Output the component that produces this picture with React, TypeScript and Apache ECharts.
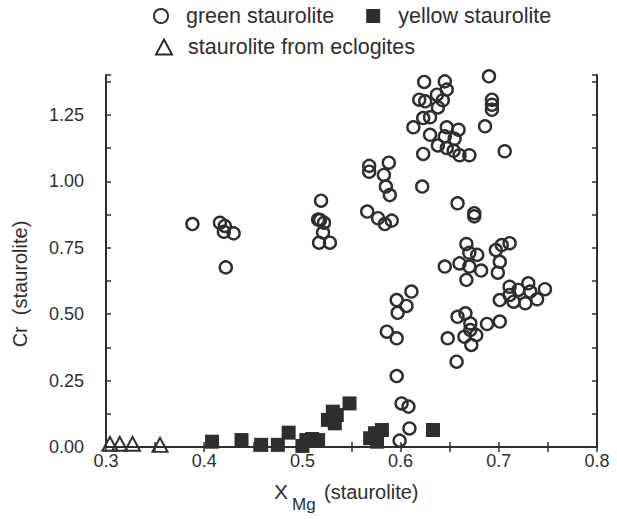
import React, { useEffect, useRef } from "react";
import * as echarts from "echarts";

const greenStaurolite: number[][] = [
  [0.388, 0.839], [0.416, 0.844], [0.421, 0.832], [0.420, 0.810], [0.430, 0.804], [0.422, 0.676],
  [0.519, 0.927], [0.518, 0.854], [0.516, 0.856], [0.522, 0.844], [0.521, 0.807], [0.517, 0.769], [0.528, 0.769],
  [0.568, 1.058], [0.568, 1.036], [0.588, 1.070], [0.583, 1.024], [0.585, 0.980], [0.589, 0.948],
  [0.566, 0.886], [0.577, 0.861], [0.584, 0.839], [0.591, 0.852], [0.622, 0.980],
  [0.624, 1.374], [0.645, 1.376], [0.647, 1.345], [0.619, 1.307], [0.625, 1.301], [0.637, 1.326],
  [0.643, 1.305], [0.638, 1.278], [0.630, 1.241], [0.623, 1.238], [0.613, 1.203], [0.630, 1.175],
  [0.647, 1.203], [0.659, 1.194], [0.645, 1.169], [0.655, 1.160], [0.638, 1.135], [0.647, 1.125],
  [0.654, 1.115], [0.660, 1.098], [0.670, 1.098], [0.623, 1.103],
  [0.690, 1.395], [0.693, 1.307], [0.693, 1.288], [0.693, 1.269], [0.686, 1.207], [0.706, 1.113],
  [0.658, 0.917], [0.675, 0.880], [0.675, 0.868],
  [0.667, 0.764], [0.670, 0.731], [0.678, 0.723], [0.660, 0.691], [0.670, 0.679], [0.682, 0.664],
  [0.645, 0.679], [0.667, 0.629],
  [0.711, 0.767], [0.703, 0.760], [0.697, 0.741], [0.701, 0.697], [0.699, 0.656],
  [0.711, 0.603], [0.720, 0.591], [0.730, 0.616], [0.732, 0.585], [0.747, 0.594], [0.701, 0.553],
  [0.715, 0.547], [0.727, 0.541], [0.739, 0.556], [0.711, 0.572],
  [0.658, 0.490], [0.666, 0.503], [0.671, 0.465], [0.671, 0.440], [0.677, 0.421], [0.648, 0.409],
  [0.665, 0.415], [0.672, 0.384], [0.688, 0.463], [0.701, 0.472], [0.657, 0.321],
  [0.611, 0.585], [0.596, 0.553], [0.606, 0.531], [0.597, 0.505], [0.586, 0.434], [0.596, 0.409],
  [0.596, 0.267], [0.601, 0.164], [0.608, 0.152], [0.609, 0.070], [0.599, 0.024],
];

const yellowStaurolite: number[][] = [
  [0.408, 0.020], [0.438, 0.026], [0.458, 0.008], [0.475, 0.008], [0.486, 0.054],
  [0.500, 0.004], [0.504, 0.026], [0.510, 0.030], [0.516, 0.026],
  [0.526, 0.102], [0.533, 0.089], [0.535, 0.120], [0.531, 0.133], [0.548, 0.164],
  [0.569, 0.033], [0.574, 0.052], [0.581, 0.064], [0.576, 0.020], [0.633, 0.064],
];

const eclogiteStaurolite: number[][] = [
  [0.304, 0.012], [0.314, 0.012], [0.327, 0.012], [0.355, 0.008],
];

const seriesNames = ["green staurolite", "yellow staurolite", "staurolite from eclogites"];

const INK = "#2e2e2e";
const FONT = "Liberation Sans, Arial, Helvetica, sans-serif";

export default function App() {
  const ref = useRef<HTMLDivElement>(null);
  useEffect(() => {
    if (!ref.current) return;
    const chart = echarts.init(ref.current, null, { renderer: "svg" });
    const frameLine = { show: true, lineStyle: { color: INK, width: 2 } };
    const tickStyle = { show: true, inside: true, length: 5, lineStyle: { color: INK, width: 1.5 } };
    const legendText = { fontSize: 21.5, color: INK, fontFamily: FONT, padding: [0, 0, 0, 13] };
    chart.setOption({
      animation: false,
      backgroundColor: "#ffffff",
      textStyle: { fontFamily: FONT },
      grid: { left: 106, right: 20, top: 75, bottom: 72, containLabel: false },
      legend: [
        {
          left: 148, top: 0, itemGap: 32, itemWidth: 14, itemHeight: 14,
          textStyle: legendText,
          data: [
            { name: seriesNames[0], icon: "circle", itemStyle: { color: "transparent", borderColor: INK, borderWidth: 2 } },
            { name: seriesNames[1], icon: "rect", itemStyle: { color: INK, borderWidth: 0 } },
          ],
        },
        {
          left: 150, top: 31, itemWidth: 16, itemHeight: 15,
          textStyle: { ...legendText, padding: [0, 0, 0, 11] },
          data: [
            { name: seriesNames[2], icon: "triangle", itemStyle: { color: "transparent", borderColor: INK, borderWidth: 2 } },
          ],
        },
      ],
      xAxis: [
        {
          type: "value", position: "bottom", min: 0.3, max: 0.8, interval: 0.1,
          axisLine: frameLine, axisTick: tickStyle,
          minorTick: { show: true, splitNumber: 2, length: 5, lineStyle: { color: INK, width: 1.5 } },
          splitLine: { show: false },
          axisLabel: { fontSize: 18, color: INK, margin: 5, fontFamily: FONT, formatter: (v: number) => v.toFixed(1) },
        },
        {
          type: "value", position: "top", min: 0.3, max: 0.8, interval: 0.1,
          axisLine: frameLine, axisTick: tickStyle,
          minorTick: { show: true, splitNumber: 2, length: 5, lineStyle: { color: INK, width: 1.5 } },
          splitLine: { show: false }, axisLabel: { show: false },
        },
      ],
      yAxis: [
        {
          type: "value", position: "left", min: 0, max: 1.4, interval: 0.125,
          axisLine: frameLine, axisTick: tickStyle, splitLine: { show: false },
          axisLabel: {
            fontSize: 18, color: INK, margin: 22, fontFamily: FONT,
            formatter: (v: number) => {
              const k = v / 0.25;
              return Math.abs(k - Math.round(k)) < 1e-6 && v < 1.35 ? v.toFixed(2) : "";
            },
          },
        },
        {
          type: "value", position: "right", min: 0, max: 1.4, interval: 0.125,
          axisLine: frameLine, axisTick: tickStyle, splitLine: { show: false }, axisLabel: { show: false },
        },
      ],
      series: [
        {
          name: seriesNames[0], type: "scatter", data: greenStaurolite, symbol: "circle", symbolSize: 12, clip: false,
          itemStyle: { color: "transparent", borderColor: INK, borderWidth: 2.4, opacity: 1 },
        },
        {
          name: seriesNames[1], type: "scatter", data: yellowStaurolite, symbol: "rect", symbolSize: 14, clip: false,
          itemStyle: { color: INK, opacity: 1 },
        },
        {
          name: seriesNames[2], type: "scatter", data: eclogiteStaurolite, symbol: "triangle", symbolSize: [15, 14], clip: false,
          itemStyle: { color: "transparent", borderColor: INK, borderWidth: 2, opacity: 1 },
        },
      ],
      graphic: [
        { type: "text", left: 274, top: 481, style: { text: "X", fontSize: 21, fill: INK, fontFamily: FONT } },
        { type: "text", left: 292, top: 496, style: { text: "Mg", fontSize: 17, fill: INK, fontFamily: FONT } },
        { type: "text", left: 324, top: 482, style: { text: "(staurolite)", fontSize: 20, fill: INK, fontFamily: FONT } },
        {
          type: "text", x: 20, y: 284, rotation: Math.PI / 2,
          style: { text: "Cr  (staurolite)", fontSize: 20, fill: INK, fontFamily: FONT, align: "center", verticalAlign: "middle" },
        },
      ],
    });
    return () => chart.dispose();
  }, []);
  return <div ref={ref} style={{ position: "fixed", left: 0, top: 0, width: 617, height: 519, background: "#fff" }} />;
}
